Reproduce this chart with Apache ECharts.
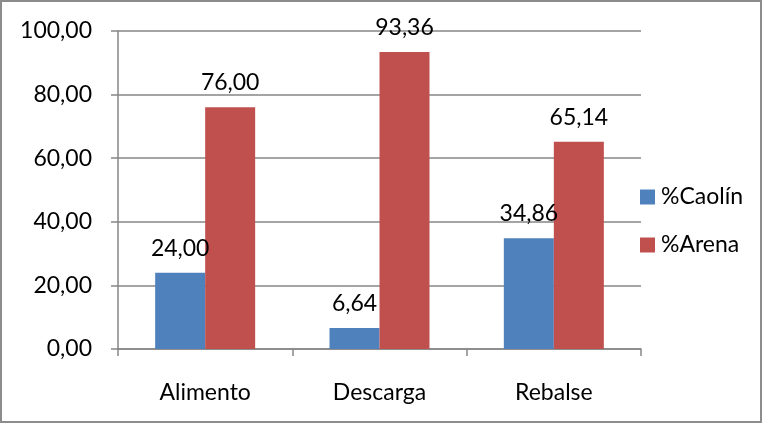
<!DOCTYPE html>
<html>
<head>
<meta charset="utf-8">
<script src="https://cdn.jsdelivr.net/npm/echarts@6/dist/echarts.min.js"></script>
<style>
  html, body { margin: 0; padding: 0; background: #fff; }
  #chart { width: 762px; height: 423px; box-sizing: border-box; border: 2px solid #8c8c8c; }
</style>
</head>
<body>
<div id="chart"></div>
<script>
// Composición de cada corriente (%)
const categories = ['Alimento', 'Descarga', 'Rebalse'];
const caolin = [24.00, 6.64, 34.86];
const arena = [76.00, 93.36, 65.14];
const yTicks = [0, 20, 40, 60, 80, 100];

const FONT = 'Lato, "Open Sans", sans-serif';
const FS = 23;
const fmt = v => v.toFixed(2).replace('.', ',');

const chart = echarts.init(document.getElementById('chart'), null, { renderer: 'canvas' });

const labelStyle = {
  show: true,
  position: 'top',
  distance: 13,
  fontFamily: FONT,
  fontSize: FS,
  color: '#000',
  formatter: p => fmt(p.value)
};

chart.setOption({
  animation: false,
  backgroundColor: '#fff',
  grid: { left: 116, right: 119, top: 29, bottom: 72, containLabel: false },
  legend: {
    orient: 'vertical',
    left: 633,
    top: 178,
    itemWidth: 15,
    itemHeight: 15,
    itemGap: 24,
    icon: 'rect',
    textStyle: { fontFamily: FONT, fontSize: FS, lineHeight: 24, color: '#000', padding: [0, 0, 0, 1] },
    data: ['%Caolín', '%Arena']
  },
  xAxis: {
    type: 'category',
    data: categories,
    axisLine: { lineStyle: { color: '#868686', width: 1.5 } },
    axisTick: { show: true, length: 7, alignWithLabel: false, lineStyle: { color: '#868686', width: 1.5 } },
    axisLabel: { fontFamily: FONT, fontSize: FS, color: '#000', margin: 32 }
  },
  yAxis: {
    type: 'value',
    min: yTicks[0],
    max: yTicks[yTicks.length - 1],
    interval: yTicks[1] - yTicks[0],
    axisLine: { show: true, lineStyle: { color: '#868686', width: 1.5 } },
    axisTick: { show: true, length: 7, lineStyle: { color: '#868686', width: 1.5 } },
    splitLine: { lineStyle: { color: '#868686', width: 1.5 } },
    axisLabel: { fontFamily: FONT, fontSize: FS, color: '#000', margin: 26, formatter: v => fmt(v) }
  },
  series: [
    {
      name: '%Caolín',
      type: 'bar',
      data: caolin,
      barWidth: 50,
      barGap: '0%',
      itemStyle: { color: '#4F81BD' },
      label: labelStyle
    },
    {
      name: '%Arena',
      type: 'bar',
      data: arena,
      barWidth: 50,
      barGap: '0%',
      itemStyle: { color: '#C0504D' },
      label: labelStyle
    }
  ]
});
</script>
</body>
</html>
